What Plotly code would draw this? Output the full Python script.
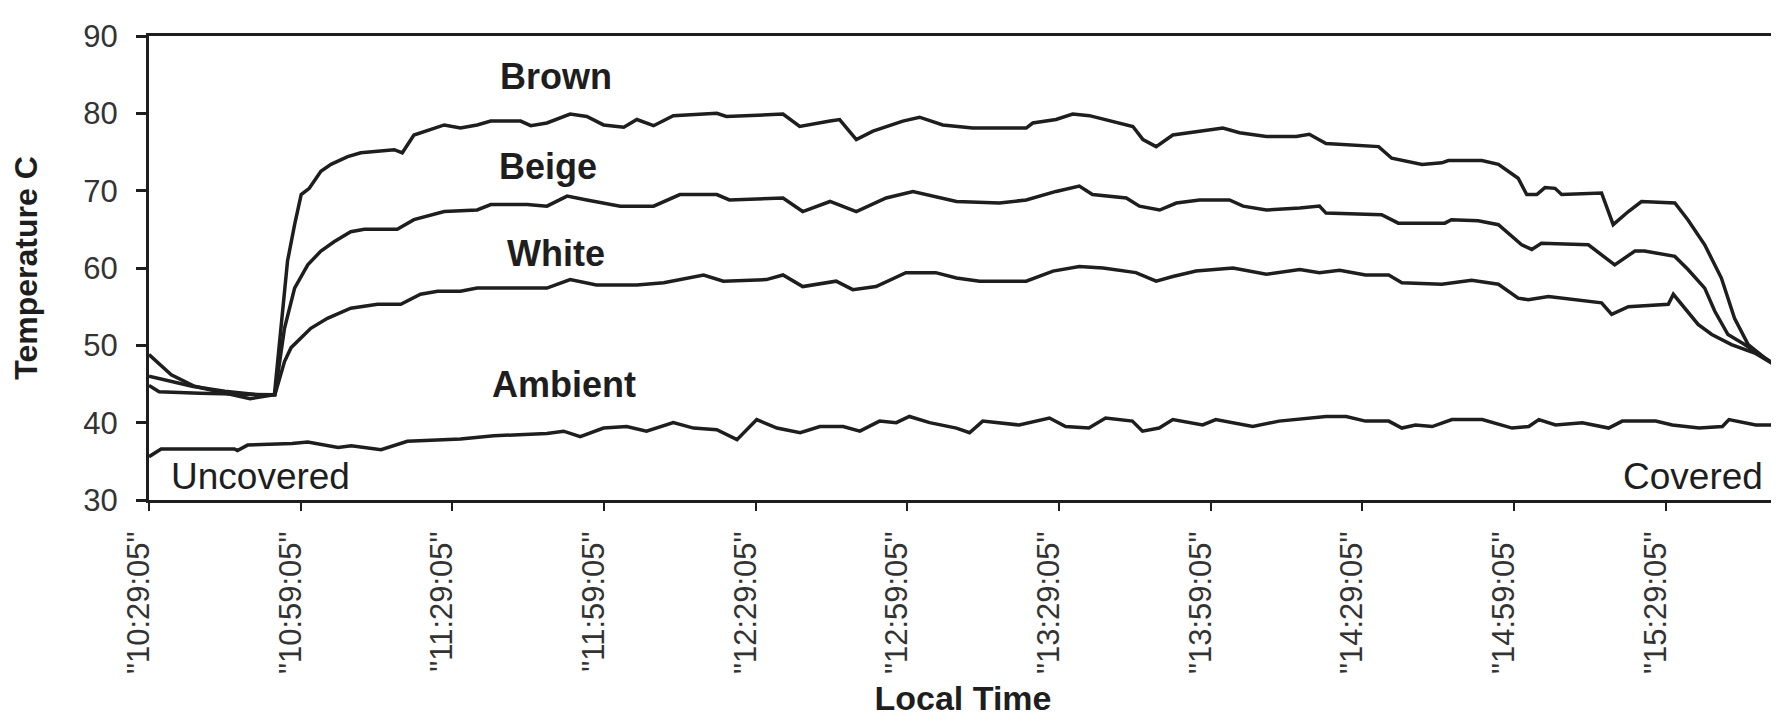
import plotly.graph_objects as go

# ---- data (minutes after 10:29:05, temperature in deg C) ----
brown_t = [0, 4.4, 9, 15.6, 20, 24.8, 27.4, 28.8, 30.1, 31.7, 34, 36, 39.3, 41.9, 48.5, 50.1, 52.4, 58.4,
           61.6, 64.9, 67.6, 73.5, 75.5, 78.7, 83.3, 86.6, 89.9, 93.9, 96.5, 99.8, 103.7, 112.3, 114.2,
           125.4, 128.7, 134.7, 136.6, 139.9, 143.2, 149.1, 152.4, 157.0, 162.9, 173.5, 174.8, 179.4,
           182.7, 186, 190, 194.6, 196.6, 199.2, 202.5, 207.8, 212.4, 215.7, 221, 226.9, 229.5, 232.8,
           238.1, 243.2, 245.8, 251.8, 255.7, 257, 263.6, 266.9, 270.8, 272.5, 274.5, 276.1, 278.1,
           279.4, 287.3, 289.6, 292.6, 295.2, 301.8, 304.4, 307.7, 311, 313.6, 316.3, 319.5, 322]
brown_v = [48.8, 46.2, 44.7, 43.8, 43.1, 43.6, 60.9, 65.6, 69.5, 70.3, 72.5, 73.4, 74.4, 74.9, 75.3, 74.9,
           77.2, 78.5, 78.1, 78.5, 79.0, 79.0, 78.4, 78.75, 79.9, 79.6, 78.5, 78.2, 79.2, 78.4, 79.7, 80.0,
           79.6, 79.9, 78.3, 79.0, 79.2, 76.6, 77.7, 79.0, 79.5, 78.5, 78.1, 78.1, 78.75, 79.2, 79.9, 79.7,
           79.1, 78.3, 76.6, 75.7, 77.2, 77.7, 78.1, 77.5, 77.0, 77.0, 77.3, 76.1, 75.9, 75.7, 74.2, 73.4,
           73.6, 73.9, 73.9, 73.4, 71.6, 69.5, 69.5, 70.4, 70.3, 69.5, 69.7, 65.6, 67.3, 68.6, 68.4, 66.2,
           63.0, 58.7, 53.5, 50.1, 48.4, 47.3]

beige_t = [0, 8.5, 15, 21.6, 24.9, 26.8, 28.8, 31.4, 34, 36.6, 39.9, 42.6, 49.1, 52.4, 58.4, 64.9, 67.6,
           74.8, 78.7, 82.7, 86.6, 93.2, 99.8, 105, 112.3, 114.8, 125.4, 129.3, 134.7, 139.9, 145.8, 151.1,
           159.7, 168.2, 173.5, 179.4, 184, 186.6, 193.3, 195.9, 199.9, 203.2, 207.8, 213.7, 216.4, 221,
           227.6, 231.5, 232.8, 240.6, 243.8, 247.1, 256.3, 257.6, 262.9, 266.9, 271.5, 273.5, 275.4,
           284.7, 287.3, 289.9, 293.9, 295.8, 301.8, 304.4, 307.7, 309.7, 312.3, 315.6, 319.5, 322]
beige_v = [46.0, 44.7, 44.05, 43.6, 43.6, 52.2, 57.4, 60.4, 62.2, 63.4, 64.7, 65.0, 65.0, 66.25, 67.3,
           67.5, 68.2, 68.2, 68.0, 69.3, 68.8, 68.0, 68.0, 69.5, 69.5, 68.8, 69.05, 67.3, 68.6, 67.3,
           69.05, 69.9, 68.6, 68.4, 68.8, 69.9, 70.6, 69.5, 69.05, 68.0, 67.5, 68.4, 68.8, 68.8, 68.0,
           67.5, 67.75, 68.0, 67.1, 66.9, 66.9, 65.8, 65.8, 66.25, 66.1, 65.6, 63.0, 62.4, 63.2, 63.0,
           61.7, 60.4, 62.2, 62.2, 61.5, 59.8, 57.4, 54.4, 51.4, 50.1, 48.4, 47.3]

white_t = [0, 2, 10, 20, 24.9, 26.8, 28.1, 32, 35.3, 39.9, 45.2, 49.8, 53.7, 57.1, 61.6, 64.9, 78.7, 83.3,
           88.5, 96.5, 101.8, 109.7, 113.6, 122.1, 125.4, 129.3, 135.9, 139.2, 143.8, 149.7, 155.6,
           159.7, 164.3, 173.5, 178.8, 184, 188.7, 195.2, 199.2, 202.5, 207.1, 214.4, 221, 227.6, 231.5,
           235.5, 240.6, 245.2, 247.8, 255.7, 261.6, 266.9, 270.8, 272.8, 276.8, 287.3, 289.3, 292.6,
           300.5, 301.5, 303.1, 306.4, 309.1, 313, 317.6, 322]
white_v = [44.8, 44.0, 43.8, 43.6, 43.6, 47.9, 49.7, 52.2, 53.5, 54.8, 55.3, 55.3, 56.6, 57.0, 57.0, 57.4,
           57.4, 58.5, 57.8, 57.8, 58.1, 59.1, 58.3, 58.5, 59.1, 57.6, 58.3, 57.2, 57.6, 59.4, 59.4, 58.7,
           58.3, 58.3, 59.6, 60.2, 60.0, 59.4, 58.3, 58.9, 59.6, 60.0, 59.2, 59.8, 59.4, 59.7, 59.1, 59.1,
           58.1, 57.9, 58.4, 57.9, 56.1, 55.9, 56.3, 55.5, 54.0, 55.0, 55.3, 56.6, 55.3, 52.7, 51.4, 50.1,
           49.0, 47.3]

ambient_t = [0, 2.4, 16.9, 17.5, 19.5, 28.3, 31.4, 37.4, 40, 45.9, 51.1, 61.6, 68.2, 78.7, 82, 85.3,
             89.9, 94.5, 98.4, 103.7, 107.7, 112.3, 116.3, 120.2, 124.2, 128.8, 132.7, 137.3, 140.6,
             144.5, 147.8, 150.4, 154.4, 159.7, 162.3, 164.9, 172.1, 178.1, 181.3, 185.9, 189.2, 194.5,
             196.5, 199.8, 202.5, 208.4, 211, 218.3, 223.5, 232.8, 236.8, 240.6, 245.2, 247.8, 250.5,
             253.8, 257.7, 263.7, 269.6, 272.9, 274.9, 278.2, 283.5, 288.7, 291.4, 298, 301.3, 306.6,
             311.2, 312.5, 317.8, 322]
ambient_v = [35.6, 36.6, 36.6, 36.4, 37.1, 37.3, 37.5, 36.8, 37.0, 36.5, 37.6, 37.9, 38.3, 38.6, 38.9,
             38.2, 39.3, 39.5, 38.9, 40.0, 39.3, 39.1, 37.8, 40.4, 39.3, 38.7, 39.5, 39.5, 38.9, 40.2,
             40.0, 40.8, 40.0, 39.3, 38.7, 40.2, 39.7, 40.6, 39.5, 39.3, 40.6, 40.2, 38.9, 39.3, 40.4,
             39.7, 40.4, 39.5, 40.2, 40.8, 40.8, 40.2, 40.2, 39.3, 39.7, 39.5, 40.4, 40.4, 39.3, 39.5,
             40.4, 39.7, 40.0, 39.3, 40.2, 40.2, 39.7, 39.3, 39.5, 40.4, 39.7, 39.7]

tick_minutes = [0, 30, 60, 90, 120, 150, 180, 210, 240, 270, 300]
tick_labels = ['"10:29:05"', '"10:59:05"', '"11:29:05"', '"11:59:05"', '"12:29:05"', '"12:59:05"',
               '"13:29:05"', '"13:59:05"', '"14:29:05"', '"14:59:05"', '"15:29:05"']

FONT = "Liberation Sans, Arial, Helvetica, sans-serif"
INK = "#1e1e1e"

fig = go.Figure()
for name, t, v in [("Brown", brown_t, brown_v), ("Beige", beige_t, beige_v),
                   ("White", white_t, white_v), ("Ambient", ambient_t, ambient_v)]:
    fig.add_trace(go.Scatter(x=t, y=v, mode="lines", name=name,
                             line=dict(color=INK, width=3.5), showlegend=False))

labels = [("Brown", 80.5, 84.7, "bold", 36), ("Beige", 78.9, 73.1, "bold", 36),
          ("White", 80.5, 61.9, "bold", 36), ("Ambient", 82.1, 45.0, "bold", 36),
          ("Uncovered", 22.0, 33.1, "normal", 37), ("Covered", 305.3, 33.1, "normal", 37)]
for text, x, y, w, s in labels:
    fig.add_annotation(x=x, y=y, xref="x", yref="y", text=text, showarrow=False,
                       xanchor="center", yanchor="middle",
                       font=dict(family=FONT, size=s, color=INK, weight=w))

fig.update_layout(
    width=1779, height=721,
    margin=dict(l=141, r=7, t=28, b=229),
    paper_bgcolor="white", plot_bgcolor="white",
    font=dict(family=FONT, color=INK),
)
fig.update_xaxes(
    range=[0, 322], tickmode="array", tickvals=tick_minutes, ticktext=tick_labels,
    tickangle=-90, tickfont=dict(size=31, color="#333333"),
    ticks="outside", ticklen=8, tickwidth=2, tickcolor=INK,
    ticklabelshift=-10, ticklabelstandoff=8,
    showline=True, linewidth=3, linecolor=INK, mirror=True,
    showgrid=False, zeroline=False,
    title=dict(text="Local Time", font=dict(size=34, color=INK, weight="bold"), standoff=14),
)
fig.update_yaxes(
    range=[30, 90], tickmode="array", tickvals=[30, 40, 50, 60, 70, 80, 90],
    tickfont=dict(size=31, color="#333333"),
    ticks="outside", ticklen=10, tickwidth=3, tickcolor=INK, ticklabelstandoff=12,
    showline=True, linewidth=3, linecolor=INK, mirror=True,
    showgrid=False, zeroline=False,
    title=dict(text="Temperature C", font=dict(size=32, color=INK, weight="bold"), standoff=39),
)

fig.write_html("out.html")
